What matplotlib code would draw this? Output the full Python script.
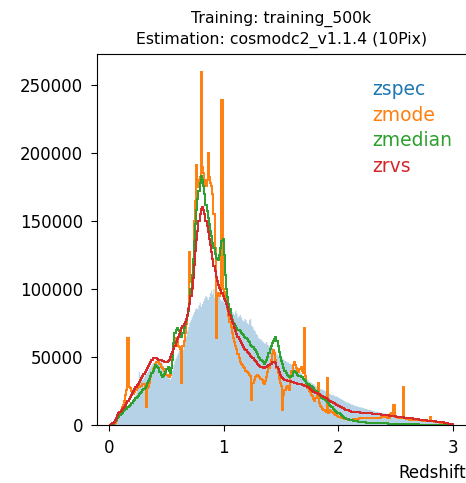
import numpy as np
import matplotlib
matplotlib.use("Agg")
import matplotlib.pyplot as plt

# counts per 0.01 redshift bin, in thousands (one row = 0.1 in z)
edges = np.linspace(0.0, 3.0, 301)

zspec = [
    0, 0, 0.3, 0.8, 1.5, 2.5, 3.5, 4.5, 5.5, 6.5,
    7.5, 8.5, 9.5, 10.5, 11.5, 12.5, 13.5, 14.5, 15.5, 16.5,
    18, 19.5, 21, 23, 25, 27, 39, 36, 33, 33,
    35, 36.5, 37.5, 38.5, 40, 41.5, 43, 44.5, 45.5, 46,
    46.5, 47.5, 48, 48, 47.5, 46.5, 45, 43.5, 41, 39,
    37, 35.5, 34, 33.5, 35, 40, 44, 47, 49, 51,
    53, 55, 53, 51, 55, 58, 62, 65, 69, 72,
    75, 77, 79, 81, 83, 85, 86, 85, 88, 90,
    87, 89, 91, 93, 95, 94, 92, 94, 97, 99,
    96, 100, 93, 95, 98, 96, 94, 92, 91, 92,
    90, 89, 88, 87, 86, 85, 84, 83, 82, 81,
    84, 82, 79, 80, 81, 79, 77, 76, 78, 77,
    75, 74, 77, 78, 73, 72, 70, 69, 67, 66,
    64, 63, 63, 62, 61, 60, 60, 61, 59, 58,
    58, 57, 57, 56, 55, 54, 52, 51, 50, 50,
    49, 49, 48, 47, 47, 46, 46, 45, 45, 44,
    43, 42, 41, 41, 40, 39, 39, 38, 37, 36,
    35, 35, 34, 33, 32, 31.5, 31, 30.5, 30, 29,
    28.5, 28, 27.5, 27, 26.5, 26, 26, 25.5, 25, 24.5,
    24, 23.5, 23, 22.5, 22, 22, 21.5, 21, 21, 20.5,
    20, 19.5, 19, 18.5, 18, 17.5, 17, 16.5, 16.5, 16,
    15.5, 15, 15, 14.5, 14, 14, 13.5, 13.5, 13, 13,
    12.8, 12.5, 12.2, 12, 11.8, 11.5, 11.2, 11, 10.8, 10.5,
    10.3, 10, 9.8, 9.8, 9.5, 9.3, 9, 9, 8.8, 8.6,
    8.5, 8.3, 8.2, 8, 7.8, 7.6, 7.4, 7.2, 7, 6.9,
    6.8, 6.7, 6.5, 6.4, 6.2, 6.1, 6, 5.8, 5.7, 5.5,
    5.4, 5.3, 5.1, 5, 4.9, 4.8, 4.6, 4.5, 4.4, 4.3,
    4.2, 4.1, 4, 3.9, 3.8, 3.7, 3.6, 3.5, 3.4, 3.3,
    3.2, 3.1, 3, 2.9, 2.8, 2.7, 2.6, 2.5, 2.4, 2.3,
    2.2, 2.1, 2, 1.9, 1.7, 1.5, 1.3, 1.1, 0.9, 0.6]

zmode = [
    0, 0, 0, 0, 0.5, 1.5, 3, 5, 7, 9,
    11, 13, 15, 18, 22, 26, 64, 28, 27, 25,
    24, 23, 24, 26, 27, 28, 28, 29, 29, 30,
    30, 29, 13.5, 27, 28, 31, 35, 38, 41, 43,
    45, 46, 46.5, 46, 45, 43, 42, 41, 40, 38,
    37, 36, 35.5, 37, 42, 50, 58, 62, 64, 63,
    58, 57, 56, 31, 58, 62, 68, 74, 80, 86,
    127.5, 105, 100, 120, 150, 165, 191, 180, 175, 182,
    259.8, 190, 185, 180, 176, 180, 200, 182, 178, 176,
    170, 155, 130, 64, 95, 97, 95, 96, 239, 100,
    98, 95, 90, 85, 80, 76, 72, 68, 64, 61,
    58, 56, 52, 49, 46, 45, 44, 43, 42, 40,
    39, 38, 37, 36, 18.4, 31, 33, 35, 36, 37,
    36, 35, 34, 33, 31, 30, 32, 35, 39, 42,
    45, 48, 52, 55, 53, 48, 42, 38, 34, 31,
    29, 11, 22, 26, 28, 29, 27, 26, 35, 40,
    44, 46, 44, 42, 40, 39, 41, 43, 40, 38,
    71, 36, 30, 27, 25, 24, 22, 21, 19, 18,
    20, 22, 31, 16, 14, 13, 12, 11, 10, 9.5,
    34.5, 9, 11, 10, 9.5, 9, 8, 7.5, 7, 6.5,
    6, 5.8, 5.5, 5.2, 5, 4.7, 4.5, 4.2, 4, 3.8,
    3.7, 3.8, 4, 4.1, 4.2, 4.4, 4.5, 4.7, 4.8, 5,
    5, 5.2, 5.3, 5, 4.8, 4.8, 5, 5.1, 5, 5,
    5, 5.2, 5.3, 5.1, 5, 5.2, 5.5, 5.8, 6, 6,
    6, 5.8, 5.5, 5.2, 5, 8, 9, 7, 14.7, 6,
    6, 5.8, 5.5, 5.3, 5, 5, 28, 5, 4.8, 4.7,
    4.5, 4.3, 4, 3.9, 3.8, 3.7, 3.7, 3.6, 3.5, 3.5,
    3.5, 3.5, 3.4, 3.3, 3.2, 3.1, 3, 3, 2.9, 2.9,
    6, 2.8, 2.6, 2.4, 2.3, 2.2, 2.1, 2, 1.9, 1.8,
    1.7, 1.6, 1.5, 1.3, 1.2, 1, 0.8, 0.6, 0.4, 0.2]

zmedian = [
    0, 0, 0.3, 1, 2, 3, 4, 5, 6, 7,
    8, 9, 10, 11, 11.5, 12, 13, 14, 15, 16,
    16.5, 17.5, 18.5, 19.5, 20.5, 21.5, 22.5, 23.5, 24.5, 25.5,
    26.5, 27.5, 29, 31, 32.5, 34, 36, 38, 40, 42,
    44, 43.5, 43, 42, 39, 37, 35.5, 36, 37.5, 39,
    41, 43, 40, 38, 42, 48, 60, 68, 70, 71,
    70, 69, 67, 65, 68, 71, 74, 77, 80, 84,
    90, 100, 110, 122, 135, 148, 158, 166, 172, 178,
    183, 180, 176, 170, 162, 157, 152, 148, 143, 139,
    134, 130, 126, 123, 122, 121, 125, 130, 135, 137,
    125, 110, 100, 94, 89, 85, 80, 77, 75, 74,
    73, 71, 70, 70, 69, 68, 67, 66, 65, 64,
    63, 62, 61, 59, 58, 57, 56, 55, 54, 52,
    50, 49, 48, 47, 46, 45, 46, 48, 50, 53,
    56, 58, 60, 62, 63, 65, 62, 58, 54, 50,
    47, 45, 42, 40, 38, 37, 36, 35.5, 35, 36,
    39, 40, 39, 38, 37, 36, 36, 35.5, 35, 34,
    33, 32, 31, 30, 29.5, 29, 28.5, 28, 27, 26,
    25, 24, 23, 22, 21, 20, 19.5, 19, 18.5, 18,
    17, 16, 15, 14, 13, 12, 11, 10, 9.5, 9,
    8.5, 8, 7, 6.5, 6, 5.5, 5, 4.5, 4.2, 4,
    3.8, 3.6, 3.4, 3.2, 3, 2.8, 2.6, 2.5, 2.3, 2.2,
    2.1, 2, 1.9, 1.9, 1.8, 1.8, 1.7, 1.7, 1.6, 1.6,
    1.6, 1.5, 1.5, 1.5, 1.4, 1.4, 1.4, 1.3, 1.3, 1.3,
    1.2, 1.2, 1.2, 1.1, 1.1, 1.1, 1, 1, 1, 0.9,
    0.9, 0.9, 0.8, 0.8, 0.8, 0.7, 0.7, 0.7, 0.6, 0.6,
    0.6, 0.6, 0.5, 0.5, 0.5, 0.5, 0.4, 0.4, 0.4, 0.4,
    0.3, 0.3, 0.3, 0.3, 0.3, 0.2, 0.2, 0.2, 0.2, 0.2,
    0.2, 0.1, 0.1, 0.1, 0.1, 0.1, 0.1, 0.1, 0.1, 0.1,
    0.1, 0.1, 0, 0, 0, 0, 0, 0, 0, 0]

zrvs = [
    0, 0, 0.5, 1.5, 2.5, 4, 5.5, 7, 8.5, 9.5,
    10.5, 11.5, 12.5, 13.5, 14.5, 16, 17.5, 19, 20.5, 22,
    23.5, 25, 26.5, 28, 29.5, 30.5, 31.5, 33, 34.5, 36,
    37.5, 39, 40.5, 42, 43.5, 45, 46.5, 48, 49, 49.5,
    49.5, 49, 48.5, 48, 47.5, 47.5, 47, 47, 46.5, 46.5,
    46.5, 47, 48, 50, 52, 54, 56, 58, 61, 63,
    65, 67, 69, 71, 72.5, 74, 76, 78, 81, 85,
    89, 95, 101, 108, 118, 128, 136, 143, 150, 155,
    159, 160, 158, 155, 150, 146, 142, 137, 132, 127,
    122, 117, 113, 109, 106, 103, 101, 99, 97, 95,
    93, 91, 89, 87, 84, 81, 78, 76, 74, 71,
    69, 67, 65, 63, 62, 60, 59, 57, 56, 55,
    54, 53, 52, 51, 50, 49, 48, 47, 46, 45,
    44, 43.5, 43, 42.5, 42, 42, 42.5, 43, 43.5, 44,
    44.5, 45, 46, 46.5, 46.5, 45.5, 43, 41, 39, 37,
    35.5, 34.5, 33.5, 33, 33, 32.5, 32.5, 32, 32, 31.5,
    31.5, 31, 31, 31, 30.5, 30.5, 30, 30, 29.5, 29.5,
    29, 29, 28.5, 28, 27, 26.5, 25.5, 25, 24.5, 24,
    23.8, 23.5, 23, 22.5, 22, 21.5, 21, 20.5, 20, 19.5,
    19, 18.5, 18, 17.5, 17, 16.5, 16, 15.5, 15, 14.5,
    14, 13.5, 13, 12.5, 12.2, 11.8, 11.3, 11, 10.7, 10.3,
    10, 9.9, 9.8, 9.6, 9.5, 9.5, 9.4, 9.3, 9.2, 9.1,
    9, 9, 8.9, 8.8, 8.8, 8.7, 8.6, 8.5, 8.5, 8.4,
    8.3, 8.2, 8.1, 8, 8, 7.9, 7.8, 7.7, 7.6, 7.5,
    7.4, 7.3, 7.2, 7, 6.9, 6.8, 6.7, 6.6, 6.4, 6.3,
    6.2, 6.1, 6, 5.9, 5.8, 5.7, 5.6, 5.5, 5.4, 5.3,
    5.2, 5.1, 5, 4.9, 4.8, 4.7, 4.6, 4.4, 4.3, 4.1,
    4, 3.9, 3.8, 3.7, 3.6, 3.5, 3.4, 3.3, 3.2, 3.1,
    3, 2.9, 2.8, 2.7, 2.6, 2.5, 2.4, 2.3, 2.2, 2.1,
    2, 1.9, 1.8, 1.7, 1.5, 1.3, 1.1, 0.9, 0.7, 0.4]

labels = ["zspec", "zmode", "zmedian", "zrvs"]
colors = ["C0", "C1", "C2", "C3"]

centers = 0.5 * (edges[:-1] + edges[1:])

fig = plt.figure(figsize=(4.66, 4.83), dpi=100)
ax = fig.add_axes([97 / 466, 58 / 483, 369 / 466, 371 / 483])

ax.hist(centers, bins=edges, weights=np.array(zspec) * 1000,
        histtype="stepfilled", color=colors[0], alpha=0.33, label=labels[0])
for vals, lab, col in zip([zmode, zmedian, zrvs], labels[1:], colors[1:]):
    ax.hist(centers, bins=edges, weights=np.array(vals) * 1000,
            histtype="step", color=col, lw=1.4, label=lab)

ax.set_xlim(-0.105, 3.113)
ax.set_ylim(0, 272800)
ax.set_xticks([0, 1, 2, 3])
ax.set_yticks([0, 50000, 100000, 150000, 200000, 250000])
ax.tick_params(labelsize=12, length=4.5, pad=5.5)
ax.spines["right"].set_visible(False)
ax.set_xlabel("Redshift", fontsize=12, loc="right", labelpad=5)
ax.set_title("Training: training_500k\nEstimation: cosmodc2_v1.1.4 (10Pix)",
             fontsize=11.3, linespacing=1.4, pad=7)

leg = ax.legend(loc="upper left", bbox_to_anchor=(0.745, 0.93),
                frameon=False, handlelength=0, handletextpad=0,
                borderpad=0, borderaxespad=0, labelspacing=0.35,
                fontsize=13.5)
for h in leg.legend_handles:
    h.set_visible(False)
for t, c in zip(leg.get_texts(), colors):
    t.set_color(c)

fig.savefig("out.png", dpi=100)
